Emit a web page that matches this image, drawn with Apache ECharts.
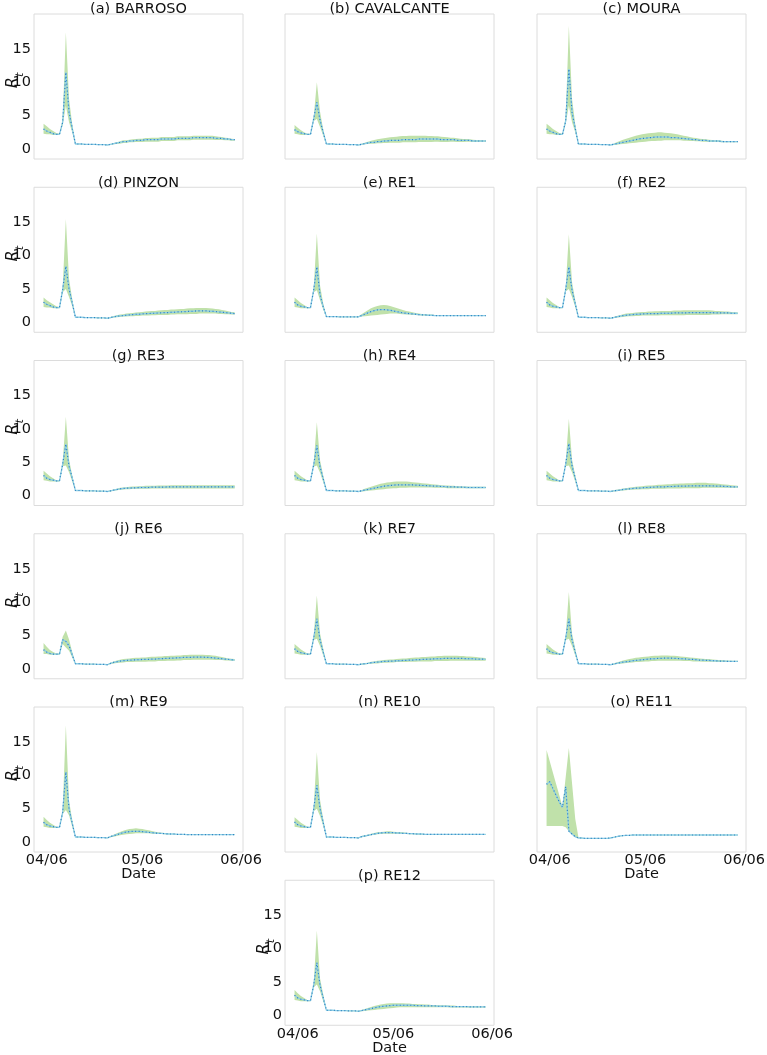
<!DOCTYPE html>
<html><head><meta charset="utf-8">
<script src="https://cdn.jsdelivr.net/npm/echarts@6/dist/echarts.min.js"></script>
<style>html,body{margin:0;padding:0;background:#fff}#c{width:767px;height:1055px}</style>
</head><body><div id="c"></div>
<script>
// ---------- DATA ----------
const panelTitles = ['(a) BARROSO','(b) CAVALCANTE','(c) MOURA','(d) PINZON','(e) RE1','(f) RE2','(g) RE3','(h) RE4','(i) RE5','(j) RE6','(k) RE7','(l) RE8','(m) RE9','(n) RE10','(o) RE11','(p) RE12'];
const tickDays = [0, 30, 61];            // days after 04/06
const tickLabels = ['04/06','05/06','06/06'];
const yTicks = [0, 5, 10, 15];
const firstDay = -1;                      // first estimate is one day before 04/06

const aMean=[3.0,2.7,2.5,2.3,2.2,2.2,4.0,11.5,5.5,3.1, 0.75,0.75,0.75,0.7,0.7,0.7,0.7,0.65,0.65,0.65,0.6, 0.7,0.8,0.9,1.0,1.1,1.1,1.2,1.2,1.3,1.3, 1.3,1.4,1.4,1.4,1.4,1.4,1.5,1.5,1.5,1.5, 1.5,1.6,1.6,1.6,1.6,1.6,1.7,1.7,1.7,1.7, 1.7,1.7,1.7,1.6,1.6,1.6,1.5,1.5,1.4,1.4];
const aLo=[2.3,2.2,2.2,2.1,2.1,2.1,3.6,6.5,4.0,2.5, 0.7,0.7,0.7,0.65,0.65,0.65,0.65,0.6,0.6,0.6,0.55, 0.6,0.7,0.75,0.8,0.9,0.9,1.0,1.0,1.05,1.05, 1.05,1.1,1.1,1.1,1.1,1.1,1.2,1.2,1.2,1.2, 1.2,1.3,1.3,1.3,1.3,1.3,1.4,1.4,1.4,1.4, 1.4,1.4,1.4,1.35,1.35,1.35,1.3,1.3,1.25,1.25];
const aHi=[3.8,3.4,3.0,2.7,2.4,2.3,4.5,17.5,7.5,3.7, 0.8,0.8,0.8,0.75,0.75,0.75,0.75,0.7,0.7,0.7,0.65, 0.75,0.9,1.0,1.15,1.3,1.3,1.4,1.45,1.5,1.55, 1.55,1.65,1.65,1.7,1.7,1.7,1.8,1.8,1.8,1.8, 1.8,1.9,1.9,1.9,1.9,1.9,2.0,2.0,2.0,2.0, 2.0,2.0,2.0,1.9,1.85,1.8,1.7,1.65,1.55,1.5];

const bMean=[2.9,2.6,2.4,2.3,2.2,2.2,4.5,7.0,4.3,2.5, 0.75,0.75,0.75,0.7,0.7,0.7,0.7,0.65,0.65,0.65,0.6, 0.7,0.8,0.9,1.0,1.0,1.1,1.1,1.2,1.2,1.3, 1.3,1.3,1.3,1.4,1.4,1.4,1.4,1.4,1.5,1.5, 1.5,1.5,1.5,1.5,1.5,1.4,1.4,1.4,1.4,1.4, 1.3,1.3,1.3,1.3,1.3,1.2,1.2,1.2,1.2,1.2];
const bLo=[2.3,2.2,2.1,2.1,2.1,2.1,4.2,4.5,3.3,2.0, 0.7,0.7,0.7,0.65,0.65,0.65,0.65,0.6,0.6,0.6,0.55, 0.6,0.7,0.75,0.8,0.8,0.85,0.85,0.9,0.9,0.95, 0.95,0.95,0.95,1.0,1.0,1.0,1.0,1.0,1.05,1.05, 1.05,1.05,1.05,1.1,1.1,1.05,1.05,1.05,1.1,1.1, 1.05,1.05,1.05,1.1,1.1,1.05,1.05,1.1,1.1,1.1];
const bHi=[3.6,3.2,2.8,2.5,2.3,2.3,4.8,10.0,5.6,2.9, 0.8,0.8,0.8,0.75,0.75,0.75,0.75,0.7,0.7,0.7,0.65, 0.8,0.95,1.1,1.25,1.35,1.45,1.55,1.6,1.7,1.75, 1.8,1.85,1.9,1.95,1.95,2.0,2.0,2.0,2.0,2.0, 2.0,1.95,1.95,1.9,1.9,1.85,1.8,1.75,1.7,1.7, 1.6,1.55,1.5,1.5,1.45,1.4,1.35,1.35,1.3,1.3];

const cMean=[3.0,2.7,2.5,2.3,2.2,2.2,4.2,12.0,5.5,3.1, 0.75,0.75,0.75,0.7,0.7,0.7,0.7,0.65,0.65,0.65,0.6, 0.7,0.8,0.9,1.0,1.1,1.2,1.3,1.4,1.5,1.6, 1.6,1.7,1.7,1.8,1.8,1.8,1.8,1.8,1.7,1.7, 1.7,1.6,1.6,1.5,1.5,1.4,1.4,1.3,1.3,1.3, 1.2,1.2,1.2,1.2,1.1,1.1,1.1,1.1,1.1,1.1];
const cLo=[2.3,2.2,2.2,2.1,2.1,2.1,3.8,6.5,4.0,2.5, 0.7,0.7,0.7,0.65,0.65,0.65,0.65,0.6,0.6,0.6,0.55, 0.6,0.65,0.7,0.75,0.8,0.85,0.9,0.95,1.0,1.05, 1.1,1.15,1.2,1.2,1.25,1.25,1.3,1.3,1.3,1.3, 1.3,1.3,1.25,1.25,1.2,1.2,1.15,1.15,1.1,1.1, 1.05,1.05,1.05,1.05,1.0,1.0,1.0,1.0,1.0,1.0];
const cHi=[3.8,3.4,3.0,2.7,2.4,2.3,4.6,18.5,7.5,3.7, 0.8,0.8,0.8,0.75,0.75,0.75,0.75,0.7,0.7,0.7,0.65, 0.8,1.0,1.2,1.4,1.55,1.7,1.85,2.0,2.1,2.2, 2.3,2.35,2.4,2.45,2.5,2.5,2.45,2.4,2.35,2.3, 2.2,2.1,2.0,1.9,1.8,1.7,1.65,1.55,1.5,1.45, 1.4,1.35,1.3,1.3,1.25,1.2,1.2,1.2,1.15,1.15];

const dMean=[3.0,2.7,2.5,2.3,2.2,2.2,4.9,8.4,5.0,2.9, 0.75,0.75,0.75,0.7,0.7,0.7,0.7,0.65,0.65,0.65,0.6, 0.7,0.8,0.9,0.95,1.0,1.05,1.1,1.15,1.2,1.2, 1.25,1.3,1.3,1.35,1.35,1.4,1.4,1.45,1.45,1.5, 1.5,1.55,1.55,1.6,1.6,1.65,1.65,1.7,1.7,1.7, 1.7,1.65,1.65,1.6,1.55,1.5,1.45,1.4,1.35,1.3];
const dLo=[2.3,2.2,2.2,2.1,2.1,2.1,4.5,5.0,3.8,2.4, 0.7,0.7,0.7,0.65,0.65,0.65,0.65,0.6,0.6,0.6,0.55, 0.6,0.7,0.75,0.8,0.85,0.85,0.9,0.9,0.95,0.95, 1.0,1.0,1.0,1.05,1.05,1.1,1.1,1.1,1.1,1.15, 1.15,1.2,1.2,1.2,1.2,1.25,1.25,1.25,1.3,1.3, 1.3,1.3,1.3,1.3,1.25,1.25,1.2,1.2,1.15,1.15];
const dHi=[3.7,3.3,3.0,2.7,2.4,2.3,5.3,15.5,6.5,3.5, 0.8,0.8,0.8,0.75,0.75,0.75,0.75,0.7,0.7,0.7,0.65, 0.8,0.95,1.05,1.15,1.2,1.3,1.35,1.4,1.45,1.5, 1.55,1.6,1.65,1.7,1.7,1.75,1.8,1.85,1.85,1.9, 1.9,1.95,2.0,2.0,2.05,2.1,2.1,2.15,2.15,2.15, 2.15,2.1,2.05,2.0,1.95,1.85,1.75,1.65,1.55,1.5];

const eMean=[3.0,2.6,2.4,2.3,2.2,2.2,4.8,8.3,4.1,2.3, 0.85,0.85,0.85,0.85,0.8,0.8,0.8,0.8,0.8,0.8,0.8, 1.0,1.2,1.4,1.6,1.75,1.85,1.9,1.9,1.85,1.8, 1.7,1.6,1.5,1.4,1.35,1.3,1.25,1.2,1.15,1.1, 1.1,1.05,1.05,1.0,1.0,1.0,1.0,1.0,1.0,1.0, 1.0,1.0,1.0,1.0,1.0,1.0,1.0,1.0,1.0,1.0];
const eLo=[2.3,2.2,2.1,2.1,2.1,2.1,4.5,4.8,3.3,1.9, 0.8,0.8,0.8,0.8,0.75,0.75,0.75,0.75,0.75,0.75,0.75, 0.85,0.9,0.95,1.0,1.05,1.1,1.15,1.2,1.25,1.3, 1.3,1.3,1.25,1.2,1.15,1.15,1.1,1.1,1.05,1.0, 1.0,0.95,0.95,0.95,0.95,0.95,0.95,0.95,0.95,0.95, 0.95,0.95,0.95,0.95,0.95,0.95,0.95,0.95,0.95,0.95];
const eHi=[3.7,3.3,2.9,2.6,2.3,2.3,5.1,13.3,5.5,2.8, 0.9,0.9,0.9,0.9,0.85,0.85,0.85,0.85,0.85,0.85,0.85, 1.2,1.5,1.8,2.1,2.3,2.45,2.55,2.6,2.55,2.45, 2.3,2.15,2.0,1.85,1.7,1.6,1.5,1.4,1.3,1.25, 1.2,1.15,1.15,1.1,1.1,1.05,1.05,1.05,1.05,1.05, 1.05,1.05,1.05,1.05,1.05,1.05,1.05,1.05,1.05,1.05];

const fMean=[3.0,2.6,2.4,2.3,2.2,2.2,4.9,8.3,4.8,2.8, 0.75,0.75,0.75,0.7,0.7,0.7,0.7,0.65,0.65,0.65,0.6, 0.7,0.8,0.9,1.0,1.05,1.1,1.15,1.2,1.2,1.25, 1.25,1.3,1.3,1.3,1.3,1.35,1.35,1.35,1.35,1.4, 1.4,1.4,1.4,1.4,1.45,1.45,1.45,1.45,1.45,1.45, 1.45,1.45,1.4,1.4,1.4,1.4,1.4,1.35,1.35,1.35];
const fLo=[2.3,2.2,2.1,2.1,2.1,2.1,4.6,5.0,3.8,2.3, 0.7,0.7,0.7,0.65,0.65,0.65,0.65,0.6,0.6,0.6,0.55, 0.6,0.7,0.75,0.8,0.85,0.9,0.9,0.95,0.95,1.0, 1.0,1.0,1.0,1.0,1.0,1.05,1.05,1.05,1.05,1.05, 1.05,1.05,1.05,1.1,1.1,1.1,1.1,1.1,1.1,1.1, 1.1,1.15,1.15,1.15,1.2,1.2,1.2,1.2,1.2,1.2];
const fHi=[3.7,3.3,2.9,2.6,2.3,2.3,5.2,13.2,6.0,3.3, 0.8,0.8,0.8,0.75,0.75,0.75,0.75,0.7,0.7,0.7,0.65, 0.8,0.95,1.05,1.2,1.3,1.35,1.4,1.45,1.5,1.55, 1.55,1.6,1.6,1.65,1.65,1.7,1.7,1.7,1.7,1.75, 1.75,1.75,1.8,1.8,1.8,1.8,1.8,1.8,1.8,1.8, 1.8,1.75,1.7,1.7,1.65,1.6,1.6,1.55,1.5,1.5];

const gMean=[3.0,2.6,2.4,2.3,2.2,2.2,4.7,7.7,4.4,2.6, 0.75,0.75,0.75,0.7,0.7,0.7,0.7,0.65,0.65,0.65,0.6, 0.7,0.8,0.9,1.0,1.05,1.1,1.1,1.15,1.15,1.2, 1.2,1.2,1.2,1.25,1.25,1.25,1.25,1.25,1.3,1.3, 1.3,1.3,1.3,1.3,1.3,1.3,1.3,1.3,1.3,1.3, 1.3,1.3,1.3,1.3,1.3,1.3,1.3,1.3,1.3,1.3];
const gLo=[2.3,2.2,2.1,2.1,2.1,2.1,4.4,4.5,3.5,2.1, 0.7,0.7,0.7,0.65,0.65,0.65,0.65,0.6,0.6,0.6,0.55, 0.6,0.7,0.8,0.85,0.9,0.95,0.95,1.0,1.0,1.0, 1.0,1.0,1.0,1.05,1.05,1.05,1.05,1.05,1.05,1.05, 1.05,1.05,1.05,1.05,1.05,1.05,1.05,1.05,1.05,1.05, 1.05,1.05,1.05,1.05,1.05,1.05,1.05,1.05,1.05,1.05];
const gHi=[3.7,3.3,2.9,2.6,2.3,2.3,5.0,11.8,5.4,3.0, 0.8,0.8,0.8,0.75,0.75,0.75,0.75,0.7,0.7,0.7,0.65, 0.8,0.9,1.0,1.15,1.2,1.25,1.3,1.35,1.35,1.4, 1.4,1.45,1.45,1.45,1.45,1.5,1.5,1.5,1.5,1.55, 1.55,1.55,1.55,1.55,1.55,1.55,1.55,1.55,1.55,1.55, 1.55,1.55,1.55,1.55,1.55,1.55,1.55,1.55,1.55,1.55];

const hMean=[3.0,2.6,2.4,2.3,2.2,2.2,4.6,7.5,4.3,2.5, 0.75,0.75,0.75,0.7,0.7,0.7,0.7,0.65,0.65,0.65,0.6, 0.7,0.8,0.9,1.0,1.1,1.2,1.3,1.4,1.45,1.5, 1.55,1.6,1.6,1.6,1.6,1.6,1.6,1.55,1.55,1.5, 1.5,1.45,1.45,1.4,1.4,1.35,1.35,1.3,1.3,1.3, 1.25,1.25,1.25,1.2,1.2,1.2,1.2,1.2,1.2,1.2];
const hLo=[2.3,2.2,2.1,2.1,2.1,2.1,4.3,4.5,3.4,2.0, 0.7,0.7,0.7,0.65,0.65,0.65,0.65,0.6,0.6,0.6,0.55, 0.6,0.65,0.7,0.75,0.8,0.85,0.9,0.95,1.0,1.05, 1.1,1.1,1.15,1.15,1.15,1.2,1.2,1.2,1.2,1.2, 1.2,1.2,1.2,1.15,1.15,1.15,1.15,1.1,1.1,1.1, 1.1,1.1,1.1,1.1,1.1,1.1,1.1,1.1,1.1,1.1];
const hHi=[3.7,3.3,2.9,2.6,2.3,2.3,4.9,11.0,5.3,3.0, 0.8,0.8,0.8,0.75,0.75,0.75,0.75,0.7,0.7,0.7,0.65, 0.8,1.0,1.15,1.3,1.45,1.6,1.75,1.85,1.95,2.0, 2.05,2.1,2.1,2.1,2.1,2.05,2.0,1.95,1.9,1.85, 1.8,1.75,1.7,1.65,1.6,1.55,1.5,1.5,1.45,1.45, 1.4,1.4,1.35,1.35,1.3,1.3,1.3,1.3,1.3,1.3];

const iMean=[3.0,2.6,2.4,2.3,2.2,2.2,4.7,7.8,4.4,2.6, 0.75,0.75,0.75,0.7,0.7,0.7,0.7,0.65,0.65,0.65,0.6, 0.7,0.75,0.8,0.9,0.95,1.0,1.05,1.1,1.1,1.15, 1.2,1.2,1.25,1.25,1.3,1.3,1.3,1.35,1.35,1.35, 1.4,1.4,1.4,1.4,1.45,1.45,1.45,1.45,1.45,1.45, 1.45,1.45,1.4,1.4,1.4,1.35,1.35,1.3,1.3,1.3];
const iLo=[2.3,2.2,2.1,2.1,2.1,2.1,4.4,4.5,3.5,2.1, 0.7,0.7,0.7,0.65,0.65,0.65,0.65,0.6,0.6,0.6,0.55, 0.6,0.65,0.7,0.75,0.8,0.85,0.85,0.9,0.9,0.95, 0.95,0.95,1.0,1.0,1.0,1.0,1.0,1.05,1.05,1.05, 1.05,1.05,1.1,1.1,1.1,1.1,1.1,1.1,1.15,1.15, 1.15,1.15,1.15,1.15,1.15,1.15,1.15,1.15,1.15,1.15];
const iHi=[3.7,3.3,2.9,2.6,2.3,2.3,5.0,11.5,5.4,3.0, 0.8,0.8,0.8,0.75,0.75,0.75,0.75,0.7,0.7,0.7,0.65, 0.8,0.85,0.95,1.05,1.1,1.2,1.25,1.3,1.35,1.4, 1.45,1.5,1.5,1.55,1.6,1.6,1.65,1.7,1.7,1.75, 1.75,1.8,1.8,1.85,1.85,1.85,1.9,1.9,1.9,1.9, 1.85,1.85,1.8,1.75,1.7,1.65,1.6,1.55,1.5,1.45];

const jMean=[2.85,2.5,2.3,2.2,2.2,2.2,4.35,4.1,3.45,2.1, 0.75,0.75,0.75,0.7,0.7,0.7,0.7,0.65,0.65,0.65,0.6, 0.8,0.95,1.05,1.15,1.2,1.25,1.3,1.3,1.35,1.35, 1.4,1.4,1.4,1.45,1.45,1.5,1.5,1.55,1.55,1.6, 1.6,1.65,1.65,1.7,1.7,1.7,1.75,1.75,1.75,1.75, 1.7,1.7,1.65,1.6,1.55,1.5,1.45,1.4,1.35,1.3];
const jLo=[2.2,2.2,2.1,2.1,2.1,2.1,3.7,3.2,2.7,1.7, 0.7,0.7,0.7,0.65,0.65,0.65,0.65,0.6,0.6,0.6,0.55, 0.7,0.8,0.85,0.9,0.95,1.0,1.0,1.0,1.05,1.05, 1.05,1.05,1.1,1.1,1.1,1.15,1.15,1.15,1.2,1.2, 1.2,1.25,1.25,1.3,1.3,1.3,1.35,1.35,1.35,1.35, 1.35,1.35,1.35,1.3,1.3,1.3,1.25,1.25,1.2,1.2];
const jHi=[3.85,3.3,2.8,2.5,2.3,2.3,4.8,5.75,4.4,2.5, 0.8,0.8,0.8,0.75,0.75,0.75,0.75,0.7,0.7,0.7,0.65, 0.9,1.1,1.25,1.35,1.45,1.5,1.55,1.6,1.65,1.65, 1.7,1.7,1.75,1.8,1.8,1.85,1.85,1.9,1.9,1.95, 1.95,2.0,2.0,2.05,2.05,2.1,2.1,2.1,2.1,2.1, 2.05,2.05,2.0,1.95,1.85,1.75,1.65,1.55,1.5,1.45];

const kMean=[3.0,2.6,2.4,2.3,2.2,2.2,4.6,7.5,4.3,2.5, 0.75,0.75,0.75,0.7,0.7,0.7,0.7,0.65,0.65,0.65,0.6, 0.7,0.75,0.8,0.9,0.95,1.0,1.05,1.1,1.1,1.15, 1.15,1.2,1.2,1.25,1.25,1.3,1.3,1.35,1.35,1.4, 1.4,1.45,1.45,1.5,1.5,1.5,1.55,1.55,1.55,1.55, 1.55,1.55,1.55,1.5,1.5,1.5,1.45,1.45,1.45,1.4];
const kLo=[2.3,2.2,2.1,2.1,2.1,2.1,4.3,4.5,3.4,2.0, 0.7,0.7,0.7,0.65,0.65,0.65,0.65,0.6,0.6,0.6,0.55, 0.6,0.65,0.7,0.75,0.8,0.8,0.85,0.9,0.9,0.95, 0.95,1.0,1.0,1.0,1.0,1.05,1.05,1.05,1.1,1.1, 1.1,1.1,1.1,1.15,1.15,1.15,1.15,1.15,1.2,1.2, 1.2,1.2,1.2,1.2,1.2,1.2,1.2,1.2,1.2,1.2];
const kHi=[3.7,3.3,2.9,2.6,2.3,2.3,4.9,11.0,5.3,3.0, 0.8,0.8,0.8,0.75,0.75,0.75,0.75,0.7,0.7,0.7,0.65, 0.8,0.85,0.9,1.05,1.1,1.2,1.25,1.3,1.35,1.4, 1.4,1.45,1.5,1.55,1.55,1.6,1.65,1.7,1.7,1.75, 1.75,1.8,1.85,1.85,1.9,1.9,1.95,1.95,1.95,1.95, 1.95,1.9,1.9,1.85,1.85,1.8,1.75,1.7,1.65,1.6];

const lMean=[3.0,2.6,2.4,2.3,2.2,2.2,4.6,7.5,4.3,2.5, 0.75,0.75,0.75,0.7,0.7,0.7,0.7,0.65,0.65,0.65,0.6, 0.7,0.8,0.9,1.0,1.05,1.1,1.2,1.25,1.3,1.35, 1.4,1.45,1.5,1.5,1.55,1.55,1.6,1.6,1.6,1.55, 1.55,1.5,1.5,1.45,1.4,1.4,1.35,1.3,1.3,1.25, 1.25,1.2,1.2,1.15,1.15,1.15,1.1,1.1,1.1,1.1];
const lLo=[2.3,2.2,2.1,2.1,2.1,2.1,4.3,4.5,3.4,2.0, 0.7,0.7,0.7,0.65,0.65,0.65,0.65,0.6,0.6,0.6,0.55, 0.6,0.7,0.75,0.8,0.85,0.9,0.95,1.0,1.0,1.05, 1.1,1.1,1.15,1.15,1.2,1.2,1.2,1.2,1.2,1.2, 1.2,1.2,1.15,1.15,1.15,1.1,1.1,1.1,1.05,1.05, 1.05,1.05,1.05,1.0,1.0,1.0,1.0,1.0,1.0,1.0];
const lHi=[3.7,3.3,2.9,2.6,2.3,2.3,4.9,11.5,5.3,3.0, 0.8,0.8,0.8,0.75,0.75,0.75,0.75,0.7,0.7,0.7,0.65, 0.8,0.95,1.1,1.25,1.35,1.45,1.55,1.65,1.7,1.75, 1.8,1.85,1.9,1.95,1.95,2.0,2.0,2.0,1.95,1.95, 1.9,1.85,1.8,1.75,1.7,1.65,1.6,1.55,1.5,1.45, 1.45,1.4,1.35,1.3,1.3,1.25,1.25,1.2,1.2,1.2];

const mMean=[2.95,2.6,2.4,2.3,2.2,2.2,4.45,10.5,4.95,2.8, 0.75,0.75,0.75,0.7,0.7,0.7,0.7,0.65,0.65,0.65,0.6, 0.8,0.95,1.1,1.25,1.4,1.5,1.55,1.6,1.6,1.6, 1.55,1.5,1.45,1.4,1.35,1.3,1.3,1.25,1.2,1.2, 1.2,1.15,1.15,1.15,1.1,1.1,1.1,1.1,1.1,1.1, 1.1,1.1,1.1,1.1,1.1,1.1,1.1,1.1,1.1,1.1];
const mLo=[2.3,2.2,2.1,2.1,2.1,2.1,4.2,4.8,4.0,2.3, 0.7,0.7,0.7,0.65,0.65,0.65,0.65,0.6,0.6,0.6,0.55, 0.7,0.8,0.9,1.0,1.1,1.15,1.2,1.25,1.3,1.3, 1.3,1.3,1.3,1.25,1.25,1.2,1.2,1.15,1.15,1.15, 1.15,1.1,1.1,1.1,1.05,1.05,1.05,1.05,1.05,1.05, 1.05,1.05,1.05,1.05,1.05,1.05,1.05,1.05,1.05,1.05];
const mHi=[3.8,3.3,2.9,2.6,2.3,2.3,4.8,17.5,6.2,3.3, 0.8,0.8,0.8,0.75,0.75,0.75,0.75,0.7,0.7,0.7,0.65, 0.9,1.1,1.3,1.5,1.7,1.85,1.95,2.0,2.05,2.0, 1.95,1.85,1.75,1.65,1.55,1.45,1.4,1.35,1.3,1.25, 1.25,1.2,1.2,1.2,1.15,1.15,1.15,1.15,1.15,1.15, 1.15,1.15,1.15,1.15,1.15,1.15,1.15,1.15,1.15,1.15];

const nMean=[3.0,2.6,2.4,2.3,2.2,2.2,4.9,8.5,5.0,2.9, 0.75,0.75,0.75,0.7,0.7,0.7,0.7,0.65,0.65,0.65,0.6, 0.8,0.9,1.0,1.1,1.2,1.3,1.35,1.4,1.4,1.4, 1.4,1.35,1.35,1.3,1.3,1.25,1.25,1.2,1.2,1.2, 1.15,1.15,1.15,1.15,1.15,1.15,1.15,1.15,1.15,1.15, 1.15,1.15,1.15,1.15,1.15,1.15,1.15,1.15,1.15,1.15];
const nLo=[2.3,2.2,2.1,2.1,2.1,2.1,4.6,5.0,3.9,2.4, 0.7,0.7,0.7,0.65,0.65,0.65,0.65,0.6,0.6,0.6,0.55, 0.7,0.8,0.9,1.0,1.1,1.15,1.2,1.25,1.25,1.25, 1.25,1.25,1.2,1.2,1.2,1.15,1.15,1.15,1.1,1.1, 1.1,1.1,1.1,1.1,1.1,1.1,1.1,1.1,1.1,1.1, 1.1,1.1,1.1,1.1,1.1,1.1,1.1,1.1,1.1,1.1];
const nHi=[3.7,3.3,2.9,2.6,2.3,2.3,5.2,13.5,6.3,3.4, 0.8,0.8,0.8,0.75,0.75,0.75,0.75,0.7,0.7,0.7,0.65, 0.9,1.0,1.1,1.25,1.35,1.45,1.5,1.55,1.6,1.6, 1.55,1.5,1.5,1.45,1.4,1.35,1.3,1.3,1.25,1.25, 1.2,1.2,1.2,1.2,1.2,1.2,1.2,1.2,1.2,1.2, 1.2,1.2,1.2,1.2,1.2,1.2,1.2,1.2,1.2,1.2];

const oMean=[8.65,9.05,8.0,7.0,6.0,5.2,8.3,1.65,1.2,0.8, 0.6,0.6,0.55,0.55,0.55,0.55,0.55,0.55,0.55,0.55,0.6, 0.7,0.8,0.9,0.95,1.0,1.0,1.05,1.05,1.05,1.05, 1.05,1.05,1.05,1.05,1.05,1.05,1.05,1.05,1.05,1.05, 1.05,1.05,1.05,1.05,1.05,1.05,1.05,1.05,1.05,1.05, 1.05,1.05,1.05,1.05,1.05,1.05,1.05,1.05,1.05,1.05];
const oLo=[2.4,2.4,2.4,2.4,2.4,2.4,2.2,1.6,1.1,0.7, 0.55,0.55,0.5,0.5,0.5,0.5,0.5,0.5,0.5,0.5,0.55, 0.65,0.75,0.85,0.9,0.95,0.95,1.0,1.0,1.0,1.0, 1.0,1.0,1.0,1.0,1.0,1.0,1.0,1.0,1.0,1.0, 1.0,1.0,1.0,1.0,1.0,1.0,1.0,1.0,1.0,1.0, 1.0,1.0,1.0,1.0,1.0,1.0,1.0,1.0,1.0,1.0];
const oHi=[13.8,12.1,10.4,8.7,7.0,5.3,9.7,14.1,8.8,3.5, 0.7,0.65,0.6,0.6,0.6,0.6,0.6,0.6,0.6,0.6,0.65, 0.75,0.85,0.95,1.0,1.05,1.05,1.1,1.1,1.1,1.1, 1.1,1.1,1.1,1.1,1.1,1.1,1.1,1.1,1.1,1.1, 1.1,1.1,1.1,1.1,1.1,1.1,1.1,1.1,1.1,1.1, 1.1,1.1,1.1,1.1,1.1,1.1,1.1,1.1,1.1,1.1];

const pMean=[3.0,2.6,2.4,2.3,2.2,2.2,4.5,7.9,4.5,2.6, 0.75,0.75,0.75,0.7,0.7,0.7,0.7,0.65,0.65,0.65,0.6, 0.7,0.8,0.9,1.0,1.1,1.2,1.3,1.35,1.4,1.45, 1.5,1.5,1.5,1.5,1.5,1.5,1.5,1.45,1.45,1.45, 1.4,1.4,1.4,1.4,1.35,1.35,1.35,1.35,1.3,1.3, 1.3,1.3,1.3,1.3,1.25,1.25,1.25,1.25,1.25,1.25];
const pLo=[2.3,2.2,2.1,2.1,2.1,2.1,4.2,4.6,3.6,2.1, 0.7,0.7,0.7,0.65,0.65,0.65,0.65,0.6,0.6,0.6,0.55, 0.6,0.65,0.7,0.75,0.8,0.85,0.9,0.95,1.0,1.05, 1.1,1.15,1.2,1.2,1.2,1.2,1.2,1.2,1.2,1.2, 1.2,1.2,1.2,1.2,1.2,1.2,1.2,1.2,1.15,1.15, 1.15,1.15,1.15,1.15,1.15,1.15,1.15,1.15,1.15,1.15];
const pHi=[3.8,3.3,2.9,2.6,2.3,2.3,4.8,12.7,5.5,3.1, 0.8,0.8,0.8,0.75,0.75,0.75,0.75,0.7,0.7,0.7,0.65, 0.8,0.95,1.1,1.25,1.4,1.5,1.6,1.7,1.75,1.8, 1.8,1.8,1.8,1.8,1.75,1.75,1.7,1.7,1.65,1.65, 1.6,1.6,1.55,1.55,1.5,1.5,1.5,1.45,1.45,1.45, 1.4,1.4,1.4,1.35,1.35,1.35,1.35,1.3,1.3,1.3];

const panelData = [
  [aMean,aLo,aHi],[bMean,bLo,bHi],[cMean,cLo,cHi],[dMean,dLo,dHi],
  [eMean,eLo,eHi],[fMean,fLo,fHi],[gMean,gLo,gHi],[hMean,hLo,hHi],
  [iMean,iLo,iHi],[jMean,jLo,jHi],[kMean,kLo,kHi],[lMean,lLo,lHi],
  [mMean,mLo,mHi],[nMean,nLo,nHi],[oMean,oLo,oHi],[pMean,pLo,pHi]
];

// ---------- LAYOUT / STYLE ----------
const FONT = 'DejaVu Sans';
const colLeft = [34, 285, 537];
const rowTop = [14, 187.25, 360.5, 533.75, 707, 880.25];
const W = 209, H = 145;
const xLabelPanels = [12, 14, 15];
const BAND = '#c0e1aa';

const grids = [], xAxes = [], yAxes = [], series = [], titles = [];
panelData.forEach((pd, k) => {
  const row = k < 15 ? Math.floor(k / 3) : 5;
  const col = k < 15 ? k % 3 : 1;
  const left = colLeft[col], top = rowTop[row];
  const showX = xLabelPanels.indexOf(k) >= 0;
  const showY = (col === 0) || k === 15;
  grids.push({left, top, width: W, height: H, show: true, borderColor: '#dcdcdc', borderWidth: 1,
    backgroundColor: '#fff', containLabel: false, outerBoundsMode: 'none'});
  xAxes.push({type: 'value', gridIndex: k, min: -4, max: 61.6,
    axisLine: {show: false}, axisTick: {show: false}, splitLine: {show: false},
    axisLabel: {show: showX, customValues: tickDays, margin: 1, fontSize: 14.5, color: '#111', fontFamily: FONT,
      formatter: v => { const j = tickDays.findIndex(t => Math.abs(t - v) < 0.01); return j >= 0 ? tickLabels[j] : ''; }},
    name: showX ? 'Date' : '', nameLocation: 'middle', nameGap: 15, nameMoveOverlap: false,
    nameTextStyle: {fontSize: 14.5, color: '#111', fontFamily: FONT}});
  yAxes.push({type: 'value', gridIndex: k, min: -1.5, max: 20.25,
    axisLine: {show: false}, axisTick: {show: false}, splitLine: {show: false},
    axisLabel: {show: showY, customValues: yTicks, margin: 3, fontSize: 14.5, color: '#111', fontFamily: FONT},
    name: showY ? '{r|R}{s|t}' : '', nameLocation: 'middle', nameRotate: 90, nameGap: 8, nameMoveOverlap: false,
    nameTextStyle: {fontFamily: FONT, color: '#111', rich: {
      r: {fontSize: 16, fontStyle: 'italic', fontFamily: FONT, color: '#111', padding: [0, 0, 5, 12]},
      s: {fontSize: 11, fontStyle: 'italic', fontFamily: FONT, color: '#111', verticalAlign: 'bottom'}}}});
  titles.push({text: panelTitles[k], left: left + W / 2, top: top - 12, textAlign: 'center', padding: 0,
    textStyle: {fontSize: 14.5, fontWeight: 'normal', color: '#111', fontFamily: FONT}});

  const [mean, lo, hi] = pd;
  const xs = mean.map((_, i) => firstDay + i);
  const bandRows = mean.map((_, i) => [xs[i], lo[i], hi[i]]);
  series.push({type: 'custom', xAxisIndex: k, yAxisIndex: k, silent: true, animation: false, clip: true,
    data: bandRows, encode: {x: 0, y: [1, 2]},
    renderItem: (params, api) => {
      if (params.dataIndex !== 0) return null;
      const upper = bandRows.map(r => api.coord([r[0], r[2]]));
      const lower = bandRows.map(r => api.coord([r[0], r[1]])).reverse();
      return {type: 'polygon', shape: {points: upper.concat(lower)}, style: {fill: BAND, stroke: null}};
    }});
  const base = {type: 'line', xAxisIndex: k, yAxisIndex: k, symbol: 'none', silent: true, animation: false};
  series.push(Object.assign({}, base, {data: mean.map((v, i) => [xs[i], v]),
    lineStyle: {color: '#8fd0e6', width: 1.3}}));
  series.push(Object.assign({}, base, {data: mean.map((v, i) => [xs[i], v]),
    lineStyle: {color: '#2e7fc0', width: 1.2, type: [1, 2.5]}}));
});

const chart = echarts.init(document.getElementById('c'), null, {renderer: 'canvas'});
chart.setOption({animation: false, backgroundColor: '#fff', title: titles, grid: grids, xAxis: xAxes, yAxis: yAxes, series});
</script></body></html>
